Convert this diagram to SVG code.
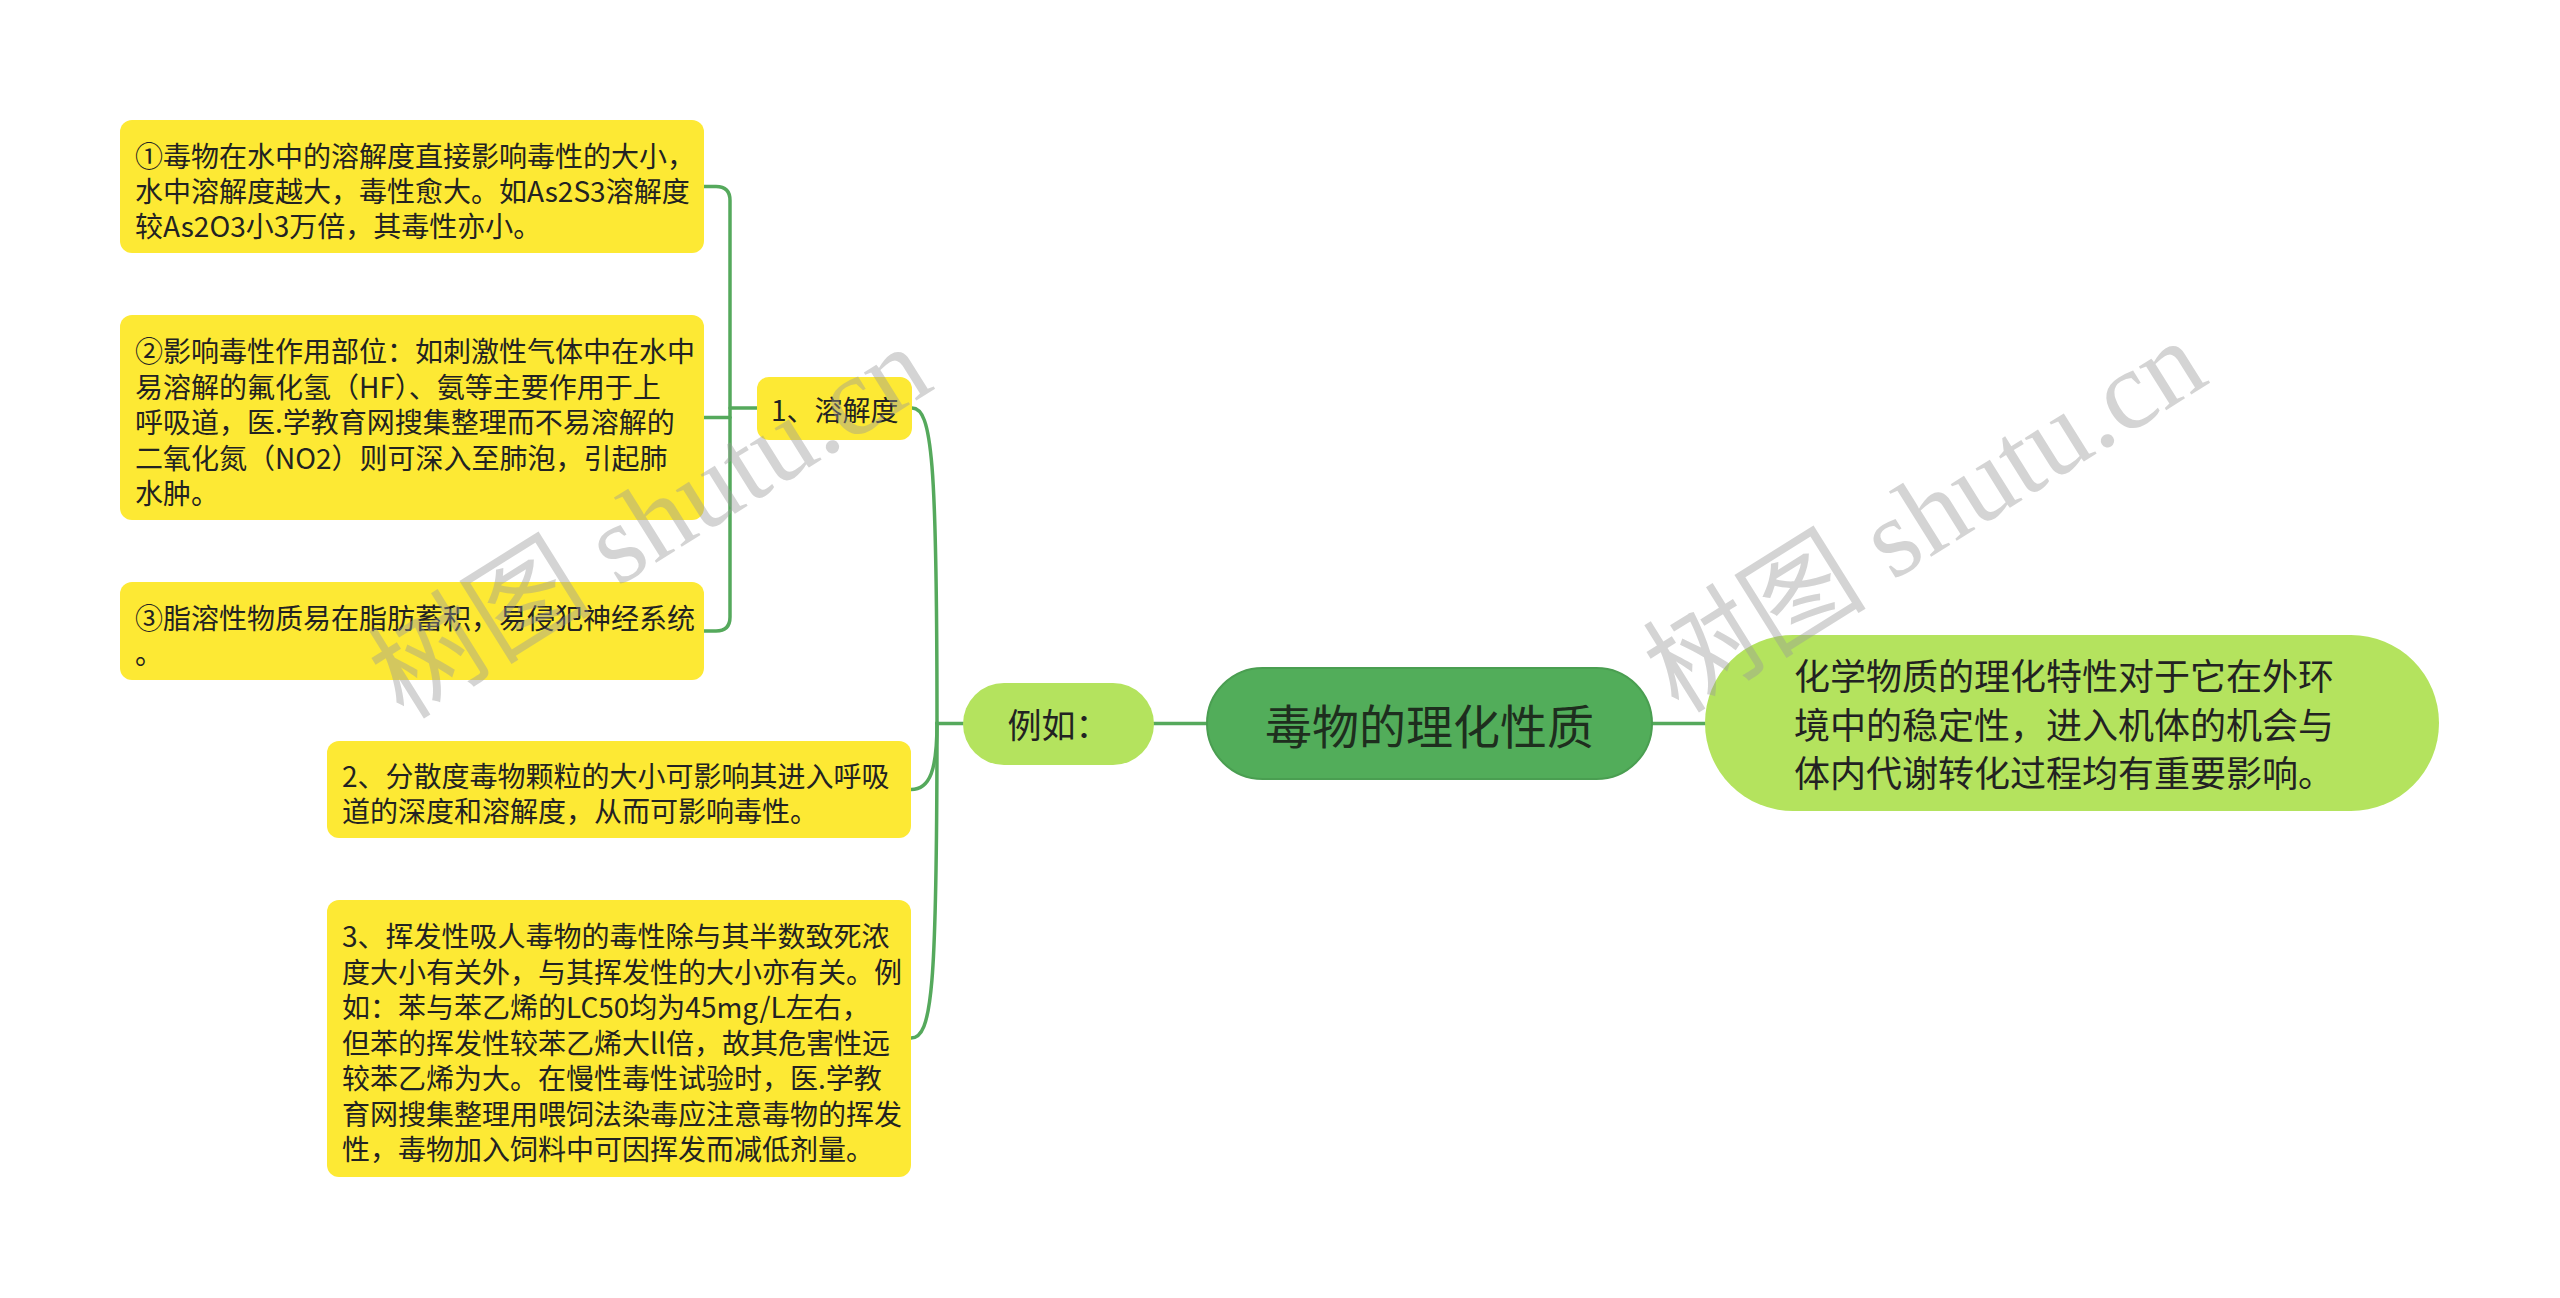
<svg xmlns="http://www.w3.org/2000/svg" width="2560" height="1298" viewBox="0 0 2560 1298">
<style>
.t{font-family:"Noto Sans CJK SC","Noto Sans",sans-serif;fill:#222;dominant-baseline:central}
.s{font-size:28px}
.y{fill:#fde934}
.c{fill:none;stroke:#55a95c;stroke-width:3.5;stroke-linecap:round}
.wm{font-family:"Liberation Serif","Noto Sans CJK SC",serif;font-size:112px;fill:#9a9a9a;opacity:0.42}
</style>
<rect width="2560" height="1298" fill="#ffffff"/>
<g id="connectors">
<path class="c" d="M1652,723.5 H1705"/>
<path class="c" d="M1154,723.5 H1207"/>
<path class="c" d="M937,723.5 H963"/>
<path class="c" d="M912,408 C932,408 937,460 937,723"/>
<path class="c" d="M911,789.5 C930,789.5 937,770 937,723"/>
<path class="c" d="M911,1038 C932,1038 937,990 937,723"/>
<path class="c" d="M757,408 H730"/>
<path class="c" d="M704,186.5 H716 Q730,186.5 730,200.5 V617 Q730,631 716,631 H704"/>
<path class="c" d="M704,417.5 H730"/>
</g>
<g id="node-right">
<rect x="1705" y="635" width="734" height="176" rx="88" fill="#b4e35e"/>
<text class="t" font-size="36" x="1794" y="674">化学物质的理化特性对于它在外环</text>
<text class="t" font-size="36" x="1794" y="723">境中的稳定性，进入机体的机会与</text>
<text class="t" font-size="36" x="1794" y="771">体内代谢转化过程均有重要影响。</text>
</g>
<g id="node-main">
<rect x="1207" y="668" width="445" height="111" rx="55.5" fill="#52ad5a" stroke="#4a9e51" stroke-width="2"/>
<text class="t" font-size="47" x="1429.5" y="723.5" text-anchor="middle" style="fill:#1e2e1e">毒物的理化性质</text>
</g>
<g id="node-example">
<rect x="963" y="683" width="191" height="82" rx="41" fill="#b4e35e"/>
<text class="t" font-size="34" x="1058.5" y="723.5" text-anchor="middle">例如：</text>
</g>
<g id="node-solubility">
<rect class="y" x="757" y="377" width="155" height="63" rx="12"/>
<text class="t s" x="771" y="409">1、溶解度</text>
</g>
<g id="node-s1">
<rect class="y" x="120" y="120" width="584" height="133" rx="12"/>
<text class="t s" x="135" y="155">①毒物在水中的溶解度直接影响毒性的大小，</text>
<text class="t s" x="135" y="190">水中溶解度越大，毒性愈大。如As2S3溶解度</text>
<text class="t s" x="135" y="225">较As2O3小3万倍，其毒性亦小。</text>
</g>
<g id="node-s2">
<rect class="y" x="120" y="315" width="584" height="205" rx="12"/>
<text class="t s" x="135" y="350">②影响毒性作用部位：如刺激性气体中在水中</text>
<text class="t s" x="135" y="385.5">易溶解的氟化氢（HF）、氨等主要作用于上</text>
<text class="t s" x="135" y="421">呼吸道，医.学教育网搜集整理而不易溶解的</text>
<text class="t s" x="135" y="456.5">二氧化氮（NO2）则可深入至肺泡，引起肺</text>
<text class="t s" x="135" y="492">水肿。</text>
</g>
<g id="node-s3">
<rect class="y" x="120" y="582" width="584" height="98" rx="12"/>
<text class="t s" x="135" y="617">③脂溶性物质易在脂肪蓄积，易侵犯神经系统</text>
<text class="t s" x="135" y="652">。</text>
</g>
<g id="node-dispersion">
<rect class="y" x="327" y="741" width="584" height="97" rx="12"/>
<text class="t s" x="342" y="775">2、分散度毒物颗粒的大小可影响其进入呼吸</text>
<text class="t s" x="342" y="810">道的深度和溶解度，从而可影响毒性。</text>
</g>
<g id="node-volatility">
<rect class="y" x="327" y="900" width="584" height="277" rx="12"/>
<text class="t s" x="342" y="935">3、挥发性吸人毒物的毒性除与其半数致死浓</text>
<text class="t s" x="342" y="970.5">度大小有关外，与其挥发性的大小亦有关。例</text>
<text class="t s" x="342" y="1006">如：苯与苯乙烯的LC50均为45mg/L左右，</text>
<text class="t s" x="342" y="1041.5">但苯的挥发性较苯乙烯大ll倍，故其危害性远</text>
<text class="t s" x="342" y="1077">较苯乙烯为大。在慢性毒性试验时，医.学教</text>
<text class="t s" x="342" y="1112.5">育网搜集整理用喂饲法染毒应注意毒物的挥发</text>
<text class="t s" x="342" y="1148">性，毒物加入饲料中可因挥发而减低剂量。</text>
</g>
<g id="watermarks">
<text class="wm" x="650" y="522" text-anchor="middle" dominant-baseline="central" transform="rotate(-32 650 522)">树图 shutu.cn</text>
<text class="wm" x="1925" y="516" text-anchor="middle" dominant-baseline="central" transform="rotate(-32 1925 516)">树图 shutu.cn</text>
</g>
</svg>
